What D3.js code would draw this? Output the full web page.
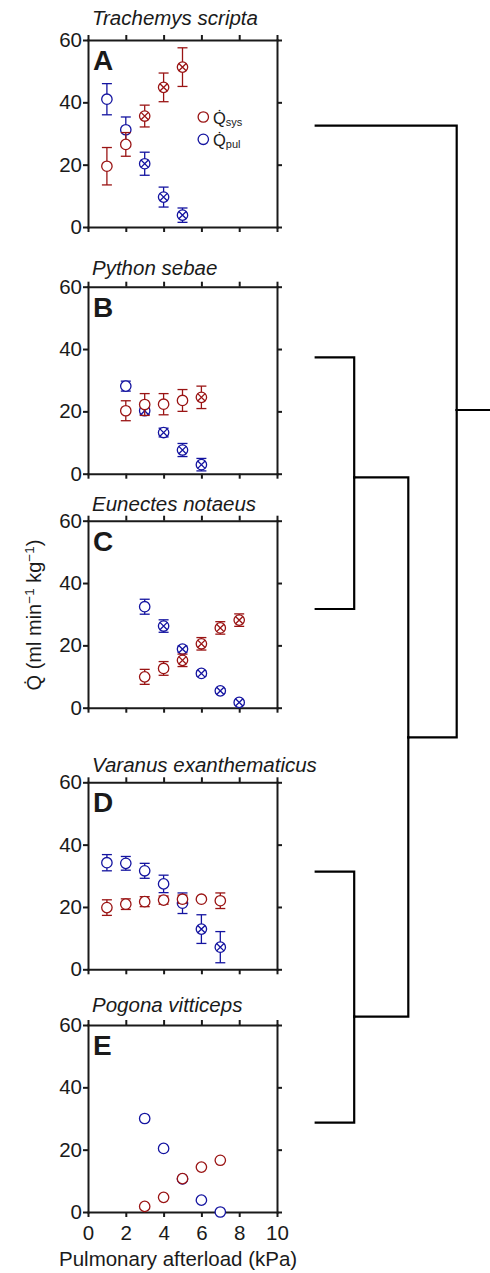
<!DOCTYPE html>
<html>
<head>
<meta charset="utf-8">
<script src="https://cdn.jsdelivr.net/npm/d3@7"></script>
<style>
body { margin: 0; background: #fff; }
svg { display: block; font-family: "Liberation Sans", Arial, sans-serif; }
</style>
</head>
<body>
<svg width="490" height="1273"></svg>
<script>
// species and panel letters
var species = ["Trachemys scripta", "Python sebae", "Eunectes notaeus", "Varanus exanthematicus", "Pogona vitticeps"];
var letters = ["A", "B", "C", "D", "E"];

// pulmonary afterload (kPa) per species
var afterloadA = [1, 2, 3, 4, 5];
var afterloadB = [2, 3, 4, 5, 6];
var afterloadC = [3, 4, 5, 6, 7, 8];
var afterloadD = [1, 2, 3, 4, 5, 6, 7];
var afterloadE = [3, 4, 5, 6, 7];

// systemic flow, mean and error, 1 = marked with a cross
var sysA = [19.5, 26.5, 35.6, 44.8, 51.3], sysErrA = [6, 3.8, 3.5, 4.6, 6.2], sysCrossA = [0, 0, 1, 1, 1];
var sysB = [20.2, 22.2, 22.3, 23.5, 24.5], sysErrB = [3.2, 3.5, 3.4, 3.5, 3.6], sysCrossB = [0, 0, 0, 0, 1];
var sysC = [9.9, 12.6, 15.2, 20.5, 25.6, 28.1], sysErrC = [2.4, 2.2, 2, 2, 2, 2], sysCrossC = [0, 0, 1, 1, 1, 1];
var sysD = [19.8, 20.9, 21.7, 22.2, 22.5, 22.5, 22.0], sysErrD = [2.5, 1.7, 1.6, 1.3, 1.3, 0.4, 2.5], sysCrossD = [0, 0, 0, 0, 0, 0, 0];
var sysE = [1.8, 4.7, 10.7, 14.4, 16.6], sysErrE = null, sysCrossE = [0, 0, 0, 0, 0];

// pulmonary flow
var pulA = [41, 31.2, 20.3, 9.6, 3.8], pulErrA = [5, 4.1, 3.7, 3.2, 2.3], pulCrossA = [0, 0, 1, 1, 1];
var pulB = [28.1, 20.2, 13.2, 7.6, 2.9], pulErrB = [1.6, 1.2, 1.4, 2.1, 2], pulCrossB = [0, 1, 1, 1, 1];
var pulC = [32.4, 26.2, 18.8, 11.0, 5.4, 1.7], pulErrC = [2.4, 2, 1, 0.8, 0.7, 0.6], pulCrossC = [0, 1, 1, 1, 1, 1];
var pulD = [34.2, 34.0, 31.6, 27.4, 21.2, 12.9, 7.1], pulErrD = [2.6, 2.2, 2.4, 2.8, 3.3, 4.6, 5], pulCrossD = [0, 0, 0, 0, 0, 1, 1];
var pulE = [30.0, 20.4, 10.6, 3.8, 0.0], pulErrE = null, pulCrossE = [0, 0, 0, 0, 0];

var xTicks = [0, 2, 4, 6, 8, 10];
var yTicks = [0, 20, 40, 60];

var panels = [
  {x: afterloadA, sys: sysA, sysErr: sysErrA, sysX: sysCrossA, pul: pulA, pulErr: pulErrA, pulX: pulCrossA},
  {x: afterloadB, sys: sysB, sysErr: sysErrB, sysX: sysCrossB, pul: pulB, pulErr: pulErrB, pulX: pulCrossB},
  {x: afterloadC, sys: sysC, sysErr: sysErrC, sysX: sysCrossC, pul: pulC, pulErr: pulErrC, pulX: pulCrossC},
  {x: afterloadD, sys: sysD, sysErr: sysErrD, sysX: sysCrossD, pul: pulD, pulErr: pulErrD, pulX: pulCrossD},
  {x: afterloadE, sys: sysE, sysErr: sysErrE, sysX: sysCrossE, pul: pulE, pulErr: pulErrE, pulX: pulCrossE}
];

// layout
var panelTops = [40, 286.7, 520.7, 782.3, 1025], panelHeight = 187;
var titleOffsets = [15, 11.7, 9.7, 10.7, 12.7];
var red = "#9a1414", blue = "#1414a0", ink = "#1a1a1a", r = 5.2;

var svg = d3.select("svg");
var x = d3.scaleLinear().domain([0, 10]).range([88, 277]);

panels.forEach(function(p, i) {
  var top = panelTops[i];
  var y = d3.scaleLinear().domain([0, 60]).range([top + panelHeight, top]);
  var g = svg.append("g");
  var last = i == panels.length - 1;

  // frame with ticks on all four sides
  g.append("g").attr("transform", "translate(88,0)")
    .call(d3.axisLeft(y).tickValues(yTicks).tickSize(5).tickSizeOuter(0).tickPadding(1));
  g.append("g").attr("transform", "translate(277,0)")
    .call(d3.axisRight(y).tickValues(yTicks).tickSize(5).tickSizeOuter(0).tickFormat(""));
  g.append("g").attr("transform", "translate(0," + top + ")")
    .call(d3.axisTop(x).tickValues(xTicks).tickSize(5).tickSizeOuter(0).tickFormat(""));
  var bottom = d3.axisBottom(x).tickValues(xTicks).tickSize(5).tickSizeOuter(0).tickPadding(8);
  if (!last) bottom.tickFormat("");
  g.append("g").attr("transform", "translate(0," + (top + panelHeight) + ")").call(bottom);

  g.selectAll(".domain").attr("stroke", ink).attr("stroke-width", 2).attr("stroke-linecap", "square");
  g.selectAll(".tick line").attr("stroke", ink).attr("stroke-width", 2);
  g.selectAll(".tick text").attr("font-size", 20.5).attr("fill", ink)
    .attr("font-family", "'Liberation Sans', Arial, sans-serif");

  // title and panel letter
  g.append("text").attr("x", 92).attr("y", top - titleOffsets[i])
    .attr("font-size", 20.5).attr("font-style", "italic").attr("fill", ink)
    .text(species[i]);
  g.append("text").attr("x", 93).attr("y", top + 30)
    .attr("font-size", 28).attr("font-weight", "bold").attr("fill", ink)
    .text(letters[i]);

  // pulmonary first, systemic drawn on top
  [[p.pul, p.pulErr, p.pulX, blue], [p.sys, p.sysErr, p.sysX, red]].forEach(function(s) {
    var pts = p.x.map(function(xv, j) {
      return {x: xv, v: s[0][j], e: s[1] ? s[1][j] : 0, c: s[2][j]};
    });
    var sg = g.append("g").attr("stroke", s[3]).attr("stroke-width", 1.3).attr("fill", "none");
    if (s[1]) {
      var eb = sg.selectAll(".err").data(pts).enter().append("g");
      eb.append("line")
        .attr("x1", function(d) { return x(d.x); }).attr("x2", function(d) { return x(d.x); })
        .attr("y1", function(d) { return y(d.v - d.e); }).attr("y2", function(d) { return y(d.v + d.e); });
      eb.append("line")
        .attr("x1", function(d) { return x(d.x) - 5; }).attr("x2", function(d) { return x(d.x) + 5; })
        .attr("y1", function(d) { return y(d.v + d.e); }).attr("y2", function(d) { return y(d.v + d.e); });
      eb.append("line")
        .attr("x1", function(d) { return x(d.x) - 5; }).attr("x2", function(d) { return x(d.x) + 5; })
        .attr("y1", function(d) { return y(d.v - d.e); }).attr("y2", function(d) { return y(d.v - d.e); });
    }
    sg.selectAll("circle").data(pts).enter().append("circle")
      .attr("cx", function(d) { return x(d.x); })
      .attr("cy", function(d) { return y(d.v); })
      .attr("r", r).attr("fill", "#fff");
    var k = r * 0.7071;
    sg.selectAll(".cross").data(pts.filter(function(d) { return d.c; })).enter().append("path")
      .attr("d", function(d) {
        var cx = x(d.x), cy = y(d.v);
        return "M" + (cx - k) + "," + (cy - k) + "L" + (cx + k) + "," + (cy + k) +
               "M" + (cx - k) + "," + (cy + k) + "L" + (cx + k) + "," + (cy - k);
      });
  });

  // legend in the first panel
  if (i == 0) {
    var legend = [["sys", red], ["pul", blue]];
    legend.forEach(function(l, j) {
      var ly = top + 77 + j * 22.3;
      g.append("circle").attr("cx", 203.3).attr("cy", ly).attr("r", r)
        .attr("fill", "none").attr("stroke", l[1]).attr("stroke-width", 1.3);
      var t = g.append("text").attr("x", 213).attr("y", ly + 6.5).attr("fill", ink).attr("font-size", 16.5);
      t.append("tspan").text("Q\u0307");
      t.append("tspan").attr("font-size", 11).attr("dy", 2).text(l[0]);
    });
  }
});

// axis titles
var yl = svg.append("text").attr("transform", "translate(41,615) rotate(-90)")
  .attr("text-anchor", "middle").attr("font-size", 20).attr("fill", ink);
yl.append("tspan").text("Q\u0307 (ml min");
yl.append("tspan").attr("font-size", 13.5).attr("dy", -7).text("\u22121");
yl.append("tspan").attr("dy", 7).text(" kg");
yl.append("tspan").attr("font-size", 13.5).attr("dy", -7).text("\u22121");
yl.append("tspan").attr("dy", 7).text(")");

svg.append("text").attr("x", 59).attr("y", 1266).attr("font-size", 20.5).attr("fill", ink)
  .text("Pulmonary afterload (kPa)");

// phylogeny
var tree = {name: "root", children: [
  {name: "A"},
  {name: "BCDE", children: [
    {name: "BC", children: [{name: "B"}, {name: "C"}]},
    {name: "DE", children: [{name: "D"}, {name: "E"}]}
  ]}
]};
var nodeX = {root: 456.7, BCDE: 408.3, BC: 354.2, DE: 354.2, leaf: 315.7};
var nodeY = {root: 410, A: 125.7, BCDE: 737.3, BC: 477.3, B: 357.3, C: 609, DE: 1016.7, D: 871.7, E: 1122.7};

var root = d3.hierarchy(tree);
root.each(function(n) {
  n.px = n.children ? nodeX[n.data.name] : nodeX.leaf;
  n.py = nodeY[n.data.name];
});
var tg = svg.append("g").attr("fill", "none").attr("stroke", "#000").attr("stroke-width", 2.2)
  .attr("stroke-linecap", "square");
tg.selectAll("path").data(root.links()).enter().append("path")
  .attr("d", function(l) {
    return "M" + l.target.px + "," + l.target.py + "H" + l.source.px + "V" + l.source.py;
  });
tg.append("path").attr("d", "M" + root.px + "," + root.py + "H490");
</script>
</body>
</html>
